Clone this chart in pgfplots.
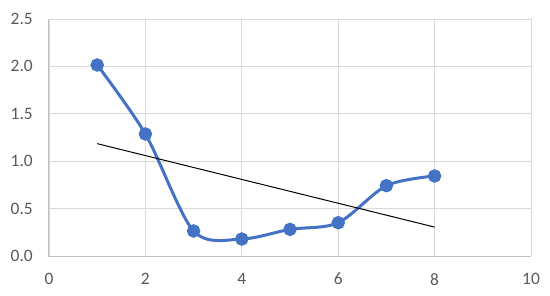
\documentclass[border=0pt]{standalone}
\usepackage{pgfplots}
\pgfplotsset{compat=1.18}
\usepackage{fontspec}
\setmainfont{Carlito}
\definecolor{xblue}{HTML}{4472C4}
\definecolor{xgrid}{HTML}{D9D9D9}
\definecolor{xaxis}{HTML}{BFBFBF}
\definecolor{xtext}{HTML}{595959}
\begin{document}
\begin{tikzpicture}[x=1bp,y=1bp]
\useasboundingbox (-49,-39) rectangle (501,256);
\begin{axis}[
  at={(0,0)}, anchor=south west,
  scale only axis, width=482bp, height=237bp,
  xmin=0, xmax=10, ymin=0, ymax=2.5,
  xtick={0,2,...,10}, ytick={0,0.5,...,2.5},
  /pgf/number format/assume math mode=true,
  yticklabel style={/pgf/number format/fixed,/pgf/number format/fixed zerofill,/pgf/number format/precision=1, anchor=east, inner sep=0pt, xshift=-16bp},
  xticklabel style={anchor=north, inner sep=0pt, yshift=-17bp},
  ticklabel style={font=\fontsize{17.5}{20}\selectfont, text=xtext},
  grid=major, major grid style={xgrid, line width=0.9bp},
  axis line style={draw=none},
  tick style={draw=none},
  major tick length=0pt,
  clip=false,
]
\draw[xaxis, line width=1bp] (axis cs:0,2.5) -- (axis cs:0,0) -- (axis cs:10,0);
\addplot[xblue, line width=3bp, smooth, tension=0.5, mark=*, mark size=5.2bp, mark options={solid, fill=xblue, draw=none}]
  coordinates {(1,2.015) (2,1.287) (3,0.264) (4,0.179) (5,0.281) (6,0.351) (7,0.742) (8,0.844)};
\addplot[black, line width=1bp] coordinates {(1,1.185) (8,0.305)};
\end{axis}
\end{tikzpicture}
\end{document}
